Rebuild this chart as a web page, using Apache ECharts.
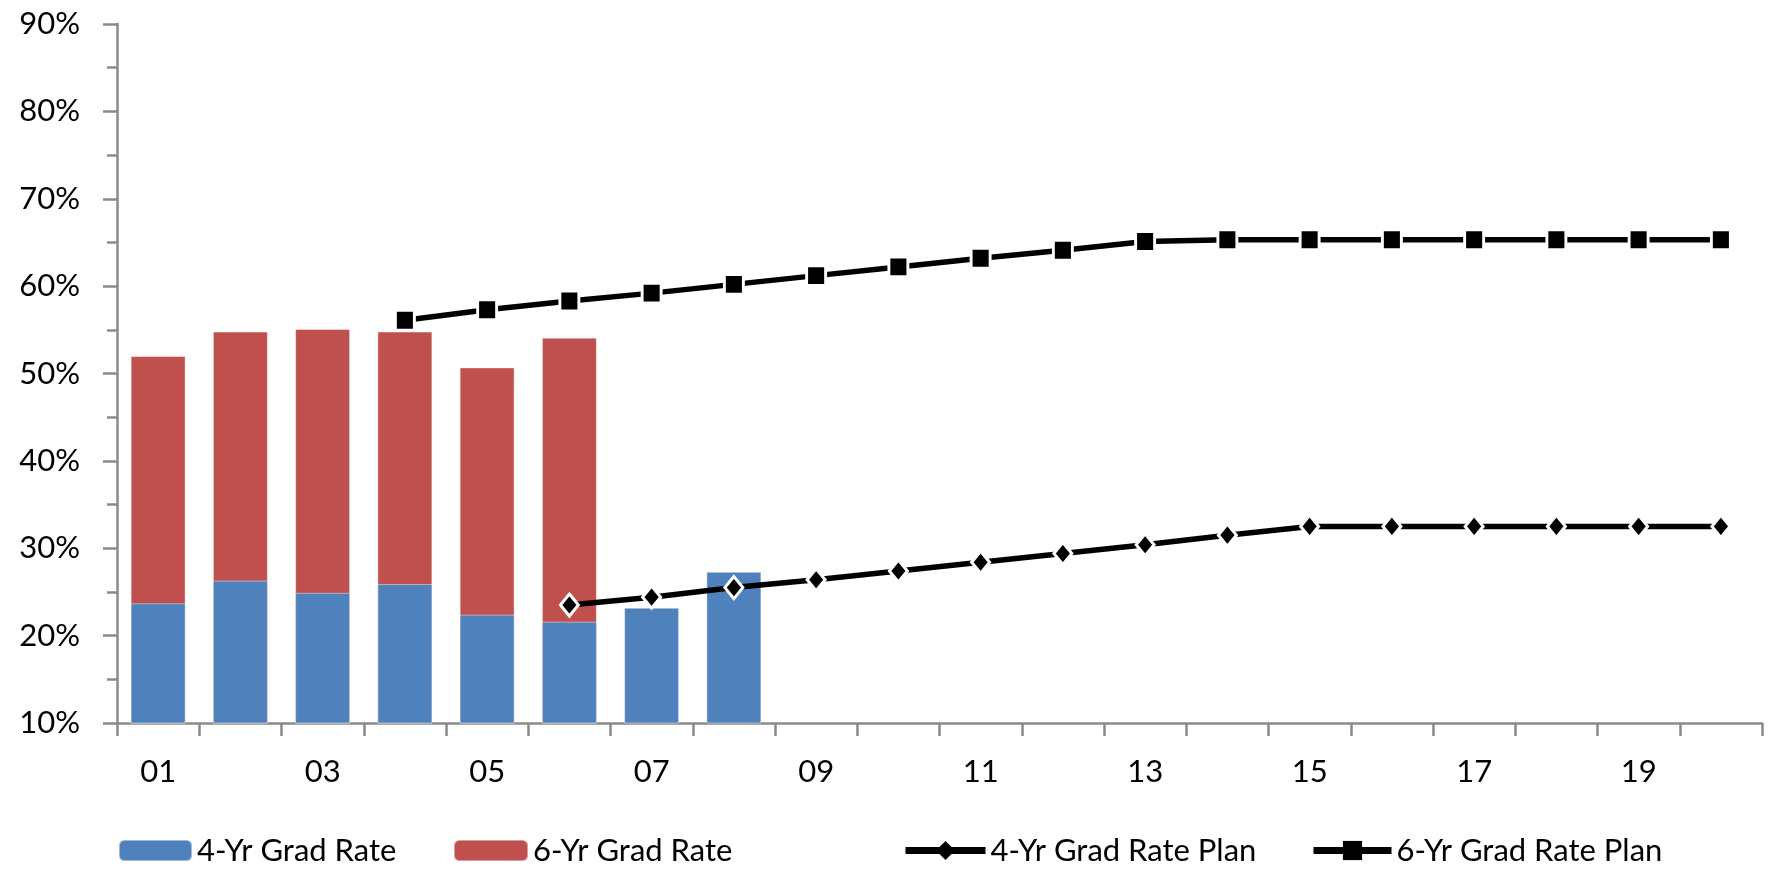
<!DOCTYPE html>
<html>
<head>
<meta charset="utf-8">
<title>Graduation Rates and Plan</title>
<script src="https://cdn.jsdelivr.net/npm/echarts@6/dist/echarts.min.js"></script>
<style>
  html, body { margin: 0; padding: 0; background: #fff; }
  #chart { width: 1768px; height: 872px; }
</style>
</head>
<body>
<div id="chart"></div>
<script>
// Cohort years (two-digit labels)
const years = ['01','02','03','04','05','06','07','08','09','10',
               '11','12','13','14','15','16','17','18','19','20'];

// Actual graduation rates (%), '-' where no data
const sixYrRate  = [52.0, 54.8, 55.1, 54.8, 50.7, 54.1, '-', '-', '-', '-',
                    '-', '-', '-', '-', '-', '-', '-', '-', '-', '-'];
const fourYrRate = [23.7, 26.3, 24.9, 25.9, 22.4, 21.6, 23.2, 27.3, '-', '-',
                    '-', '-', '-', '-', '-', '-', '-', '-', '-', '-'];

// Planned graduation rates (%)
const fourYrPlan = ['-', '-', '-', '-', '-', 23.5, 24.4, 25.5, 26.4, 27.4,
                    28.4, 29.4, 30.4, 31.5, 32.5, 32.5, 32.5, 32.5, 32.5, 32.5];
const sixYrPlan  = ['-', '-', '-', 56.1, 57.3, 58.3, 59.2, 60.2, 61.2, 62.2,
                    63.2, 64.1, 65.1, 65.3, 65.3, 65.3, 65.3, 65.3, 65.3, 65.3];

// Value axis range and steps (%)
const yMin = 10, yMax = 90, yStep = 10;

const FONT = 'Lato';
const AXIS_GRAY = '#8a8a8a';
const BLUE = '#4F81BD';
const RED = '#C0504D';

const chart = echarts.init(document.getElementById('chart'), null, { renderer: 'canvas' });

const legendText = { fontFamily: FONT, fontSize: 31, color: '#000' };
const legendLine = { color: '#000', width: 7 };
const legendMark = { color: '#000', borderWidth: 0 };

chart.setOption({
  animation: false,
  backgroundColor: '#fff',
  textStyle: { fontFamily: FONT },
  grid: { left: 117, top: 24, right: 6, bottom: 149, containLabel: false },
  legend: [
    { data: ['4-Yr Grad Rate'], left: 118, top: 835, padding: 0,
      itemWidth: 73, itemHeight: 21, textStyle: legendText },
    { data: ['6-Yr Grad Rate'], left: 453, top: 835, padding: 0,
      itemWidth: 74, itemHeight: 21, textStyle: legendText },
    { data: ['4-Yr Grad Rate Plan'], left: 902, top: 835, padding: 0,
      itemWidth: 80, itemHeight: 24, textStyle: legendText,
      lineStyle: legendLine, itemStyle: legendMark },
    { data: ['6-Yr Grad Rate Plan'], left: 1310, top: 835, padding: 0,
      itemWidth: 78, itemHeight: 24, textStyle: legendText,
      lineStyle: legendLine, itemStyle: legendMark }
  ],
  xAxis: {
    type: 'category',
    data: years,
    boundaryGap: true,
    axisLine: { lineStyle: { color: AXIS_GRAY, width: 2.5 } },
    axisTick: { show: true, interval: 0, length: 13, lineStyle: { color: AXIS_GRAY, width: 2.5 } },
    axisLabel: { interval: 1, margin: 33, fontFamily: FONT, fontSize: 31, color: '#000' },
    splitLine: { show: false }
  },
  yAxis: {
    type: 'value',
    min: yMin, max: yMax, interval: yStep,
    axisLine: { show: true, lineStyle: { color: AXIS_GRAY, width: 2.5 } },
    axisTick: { show: true, length: 14, lineStyle: { color: AXIS_GRAY, width: 2.5 } },
    minorTick: { show: true, splitNumber: 2, length: 10, lineStyle: { color: AXIS_GRAY, width: 2.5 } },
    axisLabel: { formatter: '{value}%', margin: 37, fontFamily: FONT, fontSize: 31, color: '#000' },
    splitLine: { show: false }
  },
  series: [
    {
      name: '6-Yr Grad Rate', type: 'bar', data: sixYrRate,
      barWidth: 55, barGap: '-100%',
      itemStyle: { color: RED, borderColor: 'rgba(255,255,255,0.45)', borderWidth: 1 },
      z: 2
    },
    {
      name: '4-Yr Grad Rate', type: 'bar', data: fourYrRate,
      barWidth: 55, barGap: '-100%',
      itemStyle: { color: BLUE, borderColor: 'rgba(255,255,255,0.45)', borderWidth: 1 },
      z: 2
    },
    {
      name: '4-Yr Grad Rate Plan', type: 'line', data: fourYrPlan,
      symbol: 'diamond', symbolSize: [18, 22], showSymbol: true,
      lineStyle: { color: '#000', width: 5.5 },
      itemStyle: { color: '#000', borderColor: '#fff', borderWidth: 3 },
      z: 5
    },
    {
      name: '6-Yr Grad Rate Plan', type: 'line', data: sixYrPlan,
      symbol: 'rect', symbolSize: [19, 20], showSymbol: true,
      lineStyle: { color: '#000', width: 5.5 },
      itemStyle: { color: '#000', borderColor: '#fff', borderWidth: 3 },
      z: 5
    }
  ]
});
</script>
</body>
</html>
